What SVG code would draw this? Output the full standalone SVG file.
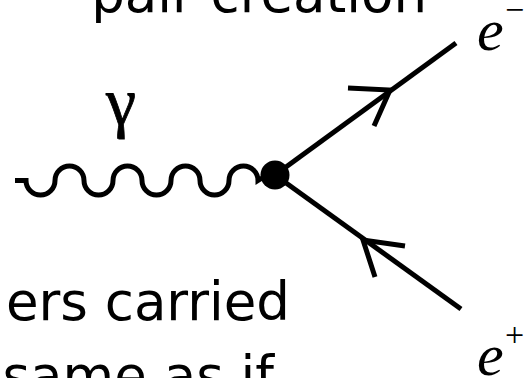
<svg xmlns="http://www.w3.org/2000/svg" width="526" height="378" viewBox="0 0 526 378">
<style>
.cap{font-family:"DejaVu Sans","Liberation Sans",sans-serif;font-size:53px;fill:#000}
.math{font-family:"Liberation Serif","DejaVu Serif",serif;fill:#000}
.ln{stroke:#000;stroke-width:5;fill:none;stroke-linecap:butt}
</style>
<rect width="526" height="378" fill="#fff"/>
<g id="captions">
<text class="cap" x="427" y="12" text-anchor="end">pair creation</text>
<text class="cap" x="290" y="320" text-anchor="end">ers carried</text>
<text class="cap" x="274" y="394" text-anchor="end">same as if</text>
</g>
<g id="connectors">
<path id="photon" class="ln" stroke-width="4.5" d="M15,180.5 H26 a14.5,14.5 0 0 0 29,0 a14.5,14.5 0 0 1 29,0 a14.5,14.5 0 0 0 29,0 a14.5,14.5 0 0 1 29,0 a14.5,14.5 0 0 0 29,0 a14.5,14.5 0 0 1 29,0 a14.5,14.5 0 0 0 29,0 a14.5,14.5 0 0 1 29,0 L262,178"/>
<line id="electron" class="ln" x1="275" y1="175" x2="456" y2="43"/>
<line id="positron" class="ln" x1="275" y1="175" x2="461" y2="309"/>
<polyline class="ln" points="348,88 390,90 374,126"/>
<polyline class="ln" points="405,246 363,240 375,277"/>
</g>
<g id="vertex">
<circle cx="275" cy="175" r="14.5" fill="#000"/>
</g>
<g id="label-gamma">
<text class="math" x="106" y="125" font-size="68" stroke="#000" stroke-width="0.8">γ</text>
</g>
<g id="label-eminus">
<text class="math" x="477" y="50" font-size="60" font-style="italic">e</text>
<text class="math" x="505" y="21" font-size="34">−</text>
</g>
<g id="label-eplus">
<text class="math" x="477" y="375" font-size="60" font-style="italic">e</text>
<text class="math" x="505" y="346" font-size="34">+</text>
</g>
</svg>
